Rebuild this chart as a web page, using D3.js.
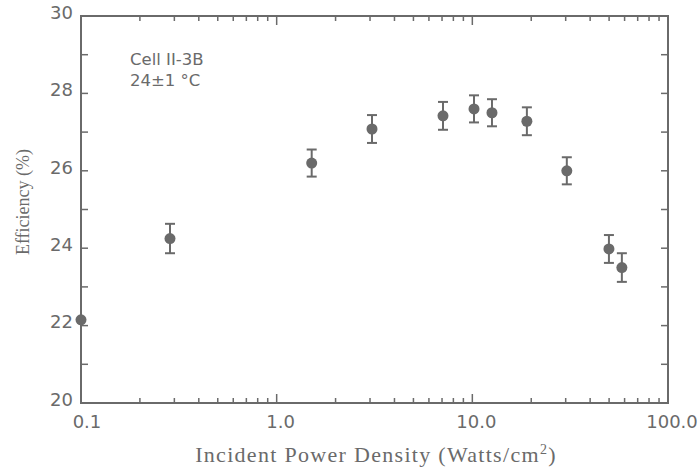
<!DOCTYPE html>
<html><head><meta charset="utf-8">
<script src="https://cdn.jsdelivr.net/npm/d3@7/dist/d3.min.js"></script>
<style>body{margin:0;background:#fff}</style>
</head><body><svg id="c" width="699" height="468"></svg>
<script>
const powerDensity = [0.1, 0.285, 1.51, 3.07, 7.08, 10.2, 12.6, 19.0, 30.4, 49.9, 58.1];
const efficiency   = [22.15, 24.25, 26.2, 27.08, 27.42, 27.6, 27.5, 27.28, 26.0, 23.98, 23.5];
const errorBar     = [0, 0.38, 0.35, 0.36, 0.36, 0.35, 0.35, 0.36, 0.35, 0.36, 0.37];
const yTickLabels = [20, 22, 24, 26, 28, 30];
const xTickLabels = ["0.1", "1.0", "10.0", "100.0"];
const xTickValues = [0.1, 1, 10, 100];

const col = "#6a6a6a";
const svg = d3.select("#c");
const L = 81, R = 668, T = 16, B = 403;
const x = d3.scaleLog().domain([0.1, 100]).range([L, R]);
const y = d3.scaleLinear().domain([20, 30]).range([B, T]);

const xMinor = [];
for (let d = 0.1; d < 100; d *= 10) for (let k = 2; k <= 9; k++) xMinor.push(+(d * k).toPrecision(3));
const g = svg.append("g");
g.append("rect").attr("x", L).attr("y", T).attr("width", R - L).attr("height", B - T)
  .attr("fill", "none").attr("stroke", col).attr("stroke-width", 2);

const allX = xMinor.map(v => ({v, len: 5})).concat([1, 10].map(v => ({v, len: 9})));
g.selectAll(".xb").data(allX).join("line")
  .attr("x1", d => x(d.v)).attr("x2", d => x(d.v)).attr("y1", B).attr("y2", d => B - d.len)
  .attr("stroke", col).attr("stroke-width", 1.5);
g.selectAll(".xt").data(allX).join("line")
  .attr("x1", d => x(d.v)).attr("x2", d => x(d.v)).attr("y1", T).attr("y2", d => T + d.len)
  .attr("stroke", col).attr("stroke-width", 1.5);

const yt = d3.range(21, 30);
g.selectAll(".yl").data(yt).join("line")
  .attr("x1", L).attr("x2", L + 7).attr("y1", d => y(d)).attr("y2", d => y(d))
  .attr("stroke", col).attr("stroke-width", 1.5);
g.selectAll(".yr").data(yt).join("line")
  .attr("x1", R).attr("x2", R - 7).attr("y1", d => y(d)).attr("y2", d => y(d))
  .attr("stroke", col).attr("stroke-width", 1.5);

const tf = "'DejaVu Sans', sans-serif";
g.selectAll(".ylab").data(yTickLabels).join("text")
  .attr("x", L - 8).attr("y", d => y(d)).attr("dy", "0.15em").attr("text-anchor", "end")
  .attr("font-family", tf).attr("font-size", 18).attr("fill", col).text(d => d);
g.selectAll(".xlab").data(xTickValues).join("text")
  .attr("x", d => x(d)).attr("dx", (d, i) => i === 0 ? 6 : 4).attr("y", 428).attr("text-anchor", "middle")
  .attr("font-family", tf).attr("font-size", 18).attr("fill", col).text((d, i) => xTickLabels[i]);

svg.append("text").attr("transform", `translate(29,202) rotate(-90)`)
  .attr("text-anchor", "middle").attr("font-family", "'Liberation Serif', serif").attr("font-size", 18)
  .attr("fill", col).text("Efficiency (%)");
const xt = svg.append("text").attr("x", 376).attr("y", 462).attr("text-anchor", "middle")
  .attr("font-family", "'Liberation Serif', serif").attr("font-size", 22).attr("letter-spacing", 1.3).attr("fill", col);
xt.append("tspan").text("Incident Power Density (Watts/cm");
xt.append("tspan").attr("dy", -8).attr("font-size", 14).text("2");
xt.append("tspan").attr("dy", 8).text(")");

svg.append("text").attr("x", 130).attr("y", 65).attr("font-family", tf).attr("font-size", 16.5)
  .attr("fill", col).text("Cell II-3B");
svg.append("text").attr("x", 130).attr("y", 86).attr("font-family", tf).attr("font-size", 16.5)
  .attr("fill", col).text("24±1  °C");

const pts = powerDensity.map((p, i) => ({p, e: efficiency[i], err: errorBar[i]}));
const eb = svg.append("g").attr("stroke", col).attr("stroke-width", 2);
pts.filter(d => d.err > 0).forEach(d => {
  const cx = x(d.p);
  eb.append("line").attr("x1", cx).attr("x2", cx).attr("y1", y(d.e - d.err)).attr("y2", y(d.e + d.err));
  eb.append("line").attr("x1", cx - 5).attr("x2", cx + 5).attr("y1", y(d.e + d.err)).attr("y2", y(d.e + d.err));
  eb.append("line").attr("x1", cx - 5).attr("x2", cx + 5).attr("y1", y(d.e - d.err)).attr("y2", y(d.e - d.err));
});
svg.append("g").selectAll("circle").data(pts).join("circle")
  .attr("cx", d => x(d.p)).attr("cy", d => y(d.e)).attr("r", 5.5).attr("fill", col);
</script></body></html>
